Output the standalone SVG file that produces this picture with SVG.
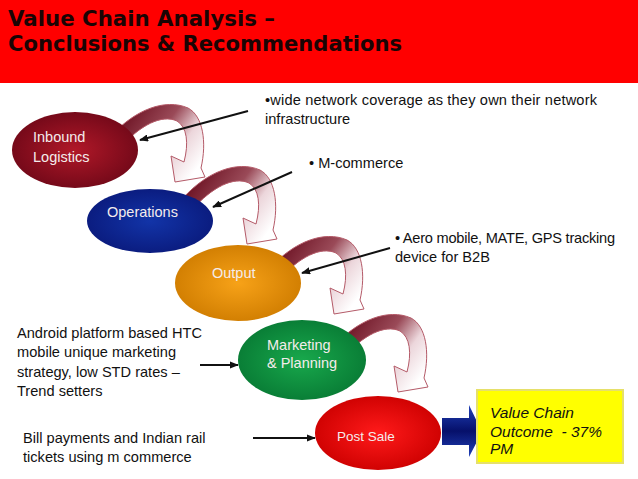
<svg xmlns="http://www.w3.org/2000/svg" xmlns:xlink="http://www.w3.org/1999/xlink" width="638" height="479" viewBox="0 0 638 479">
<style>
.title{font-family:"DejaVu Sans",Verdana,sans-serif;font-weight:bold;font-size:21px;fill:#1a0404}
.ann{font-family:"Liberation Sans",Arial,sans-serif;font-size:14.6px;fill:#111}
.lbl{font-family:"Liberation Sans",Arial,sans-serif;font-size:14.5px;fill:#f4ecec}
.out{font-family:"Liberation Sans",Arial,sans-serif;font-style:italic;font-size:15.5px;fill:#111}
.conn{stroke:#111;stroke-width:2;fill:none;marker-end:url(#ah)}
.curve{fill:url(#cg);stroke:#b45a68;stroke-width:1}
</style>
<defs>
<marker id="ah" viewBox="0 0 10 8" refX="9" refY="4" markerWidth="4.5" markerHeight="3.6" orient="auto" markerUnits="strokeWidth">
<path d="M0,0 L10,4 L0,8 z" fill="#111"/>
</marker>
<linearGradient id="cg" x1="0" y1="0.3" x2="0.9" y2="0.85">
<stop offset="0" stop-color="#6a0f20"/>
<stop offset="0.45" stop-color="#9a4a58"/>
<stop offset="0.72" stop-color="#ecd6db"/>
<stop offset="1" stop-color="#ffffff"/>
</linearGradient>
<path id="carrow" d="M112,135 C135,110 165,98 188,108 C203,116 207,142 201,168 L205,177 L175,182 L171,156 L184,162 C189,143 187,127 177,121 C162,114 140,125 120,148 Z"/>
<radialGradient id="g1" cx="0.5" cy="0.5" r="0.55"><stop offset="0" stop-color="#b01828"/><stop offset="1" stop-color="#700818"/></radialGradient>
<radialGradient id="g2" cx="0.5" cy="0.5" r="0.55"><stop offset="0" stop-color="#1234a8"/><stop offset="1" stop-color="#0a1a7c"/></radialGradient>
<radialGradient id="g3" cx="0.5" cy="0.5" r="0.55"><stop offset="0" stop-color="#f7a218"/><stop offset="1" stop-color="#cf7c00"/></radialGradient>
<radialGradient id="g4" cx="0.5" cy="0.5" r="0.55"><stop offset="0" stop-color="#18a84c"/><stop offset="1" stop-color="#087a34"/></radialGradient>
<radialGradient id="g5" cx="0.5" cy="0.5" r="0.55"><stop offset="0" stop-color="#ff1a1a"/><stop offset="1" stop-color="#cc0000"/></radialGradient>
<linearGradient id="bg" x1="0" y1="0" x2="0" y2="1">
<stop offset="0" stop-color="#2040b8"/>
<stop offset="0.5" stop-color="#06106a"/>
<stop offset="1" stop-color="#2040b8"/>
</linearGradient>
</defs>
<rect width="638" height="479" fill="#ffffff"/>
<g id="header">
<rect x="0" y="0" width="638" height="83" fill="#ff0000"/>
<text class="title" x="8" y="26" textLength="267" lengthAdjust="spacingAndGlyphs">Value Chain Analysis –</text>
<text class="title" x="8" y="51" textLength="394" lengthAdjust="spacingAndGlyphs">Conclusions &amp; Recommendations</text>
</g>
<g id="curved-arrows">
<use xlink:href="#carrow" class="curve"/>
<use xlink:href="#carrow" class="curve" transform="translate(72,62)"/>
<use xlink:href="#carrow" class="curve" transform="translate(159,132)"/>
<use xlink:href="#carrow" class="curve" transform="translate(223,210)"/>
</g>
<g id="inbound">
<ellipse cx="75" cy="150" rx="63" ry="38" fill="url(#g1)"/>
<text class="lbl" x="33" y="142">Inbound</text>
<text class="lbl" x="33" y="162">Logistics</text>
</g>
<g id="operations">
<ellipse cx="150" cy="221" rx="63" ry="32" fill="url(#g2)"/>
<text class="lbl" x="107" y="217">Operations</text>
</g>
<g id="output">
<ellipse cx="238" cy="283" rx="63" ry="38" fill="url(#g3)"/>
<text class="lbl" x="212" y="278">Output</text>
</g>
<g id="marketing">
<ellipse cx="302" cy="360" rx="64" ry="40" fill="url(#g4)"/>
<text class="lbl" x="267" y="350">Marketing</text>
<text class="lbl" x="267" y="368">&amp; Planning</text>
</g>
<g id="postsale">
<ellipse cx="378" cy="433" rx="63" ry="37" fill="url(#g5)"/>
<text class="lbl" x="337" y="441" style="font-size:13.5px">Post Sale</text>
</g>
<g id="outcome-arrow">
<path d="M442,418 L469,418 L469,405 L482,432 L469,457 L469,445 L442,445 Z" fill="url(#bg)"/>
</g>
<g id="outcome">
<rect x="477" y="390" width="146" height="73" fill="#ffff00" stroke="#e6e06a" stroke-width="2"/>
<text class="out" x="490" y="418">Value Chain</text>
<text class="out" x="490" y="437" xml:space="preserve">Outcome  - 37%</text>
<text class="out" x="490" y="454">PM</text>
</g>
<g id="annotations">
<text class="ann" x="265" y="105" textLength="332" lengthAdjust="spacing">•wide network coverage as they own their network</text>
<text class="ann" x="265" y="124">infrastructure</text>
<text class="ann" x="309" y="168">• M-commerce</text>
<text class="ann" x="395" y="243" textLength="220" lengthAdjust="spacing">• Aero mobile, MATE, GPS tracking</text>
<text class="ann" x="395" y="262">device for B2B</text>
<text class="ann" x="17" y="338">Android platform based HTC</text>
<text class="ann" x="17" y="357">mobile unique marketing</text>
<text class="ann" x="17" y="377">strategy, low STD rates –</text>
<text class="ann" x="17" y="396">Trend setters</text>
<text class="ann" x="23" y="443">Bill payments and Indian rail</text>
<text class="ann" x="23" y="462">tickets using m commerce</text>
</g>
<g id="connectors">
<line class="conn" x1="248" y1="111" x2="140" y2="140"/>
<line class="conn" x1="292" y1="172" x2="213" y2="207"/>
<line class="conn" x1="390" y1="248" x2="302" y2="273"/>
<line class="conn" x1="200" y1="365" x2="238" y2="365"/>
<line class="conn" x1="253" y1="438" x2="315" y2="438"/>
</g>
</svg>
